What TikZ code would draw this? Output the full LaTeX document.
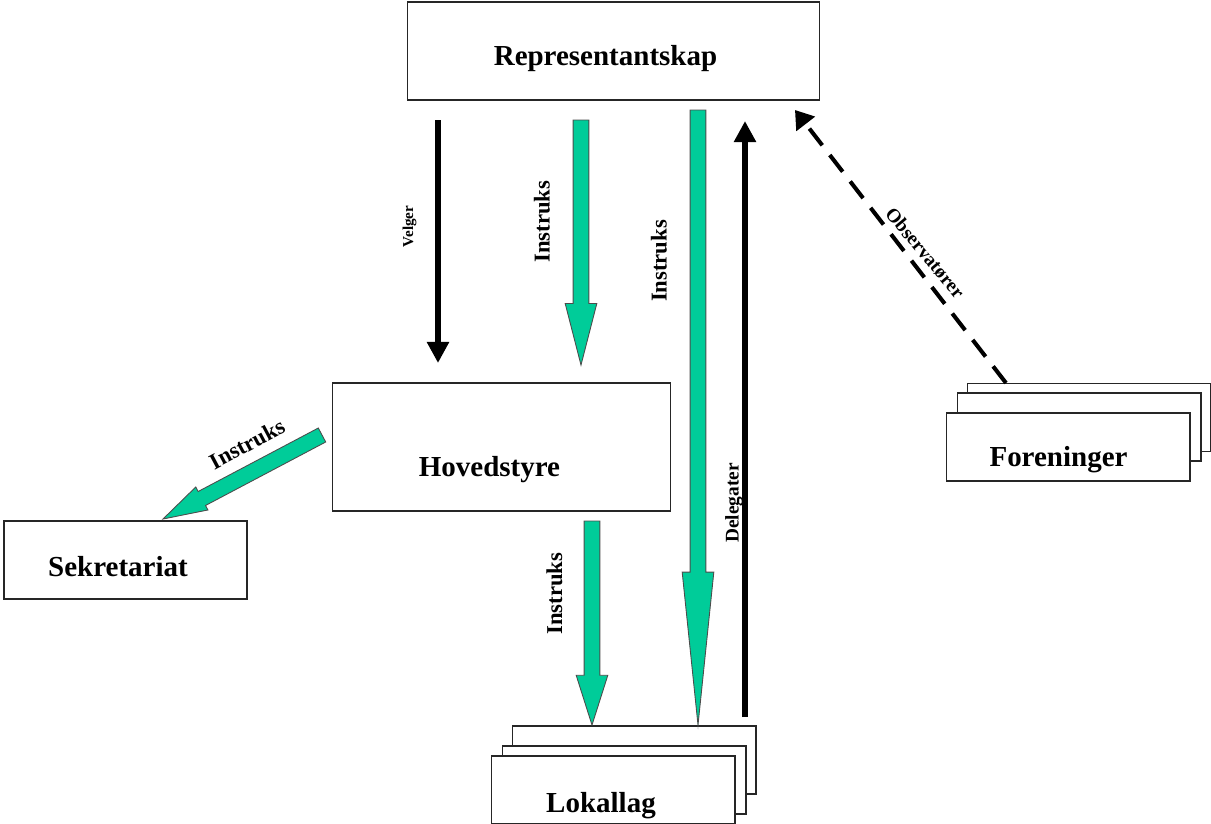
\documentclass[tikz,border=0pt]{standalone}
\usepackage{fontspec}
\setmainfont{Liberation Serif}
\usetikzlibrary{arrows.meta,calc}

\definecolor{instrgreen}{RGB}{0,204,153}

% block arrow: [half head width]{head length}{from}{to}
\newcommand{\instrarrow}[4][9pt]{%
  \coordinate (ia-base) at ($(#4)!#2!(#3)$);
  \filldraw[instrfill] ($(#3)!4.5pt!90:(#4)$) -- ($(ia-base)!4.5pt!90:(#4)$)
    -- ($(ia-base)!#1!90:(#4)$) -- (#4) -- ($(ia-base)!#1!-90:(#4)$)
    -- ($(ia-base)!4.5pt!-90:(#4)$) -- ($(#3)!4.5pt!-90:(#4)$) -- cycle;
}

\begin{document}
\begin{tikzpicture}[
    x=0.02cm, y=-0.02cm,
    box/.style={draw=black!85, line width=0.6pt, fill=white, inner sep=0pt, outer sep=0pt},
    stackbox/.style={box, minimum width=4.88cm, minimum height=1.36cm},
    boxtext/.style={font=\fontsize{16.5}{19}\selectfont\bfseries},
    arrowtext/.style={font=\fontsize{12.9}{15}\selectfont\bfseries},
    smalltext/.style={font=\fontsize{11}{13}\selectfont\bfseries},
    instrfill/.style={fill=instrgreen, draw=black!70, line width=0.5pt},
    velgarrow/.style={line width=3.4pt, -{Triangle[length=12pt,width=12pt]}},
    obsarrow/.style={line width=2.3pt, dash pattern=on 12pt off 7pt, -{Triangle[length=10pt,width=13pt]}},
  ]
  \useasboundingbox (0,0) rectangle (1211,823);

  % boxes
  \node[box, minimum width=8.26cm, minimum height=1.96cm,
    label={[boxtext, shift={(-8,8)}]center:Representantskap}] (rep) at (613.5,51) {};
  \node[box, minimum width=6.78cm, minimum height=2.56cm,
    label={[boxtext, shift={(-12,23)}]center:Hovedstyre}] (hoved) at (501.5,447) {};
  \node[box, minimum width=4.86cm, minimum height=1.56cm,
    label={[boxtext, shift={(-7.5,6.5)}]center:Sekretariat}] (sekr) at (125.5,560) {};

  \node[stackbox] (lokal-back) at (634,760) {};
  \node[stackbox] (lokal-mid) at (624,780) {};
  \node[stackbox, label={[boxtext, shift={(-12,16)}]center:Lokallag}] (lokal) at (613,790) {};

  \node[stackbox] (foren-back) at (1089,417.5) {};
  \node[stackbox] (foren-mid) at (1079,427) {};
  \node[stackbox, label={[boxtext, shift={(-9.5,13)}]center:Foreninger}] (foren) at (1068,447) {};

  % arrow ends
  \coordinate (velg-s) at (438,120);
  \coordinate (velg-e) at (438,363);
  \coordinate (instr1-s) at (581,120);
  \coordinate (instr1-e) at (581,365);
  \coordinate (instr2-s) at (698,110);
  \coordinate (instr2-e) at (698,725);
  \coordinate (instr3-s) at (592,521);
  \coordinate (instr3-e) at (592,725);
  \coordinate (instr4-s) at (322,435);
  \coordinate (instr4-e) at (163,519);
  \coordinate (deleg-s) at (745,717);
  \coordinate (deleg-e) at (745,121);
  \coordinate (obs-s) at (1006,383);
  \coordinate (obs-e) at (795,110);

  % arrows
  \draw[velgarrow] (velg-s) -- (velg-e);
  \draw[velgarrow] (deleg-s) -- (deleg-e);
  \draw[obsarrow] (obs-s) -- (obs-e);
  \instrarrow{35pt}{instr1-s}{instr1-e}
  \instrarrow{87pt}{instr2-s}{instr2-e}
  \instrarrow{28.3pt}{instr3-s}{instr3-e}
  \instrarrow[7.4pt]{25pt}{instr4-s}{instr4-e}

  % arrow labels
  \node[rotate=90, font=\fontsize{8.6}{10}\selectfont\bfseries] (velg-lbl) at (409.5,226.5) {Velger};
  \node[arrowtext, rotate=90] (instr1-lbl) at (542,221.5) {Instruks};
  \node[arrowtext, rotate=90] (instr2-lbl) at (659,261) {Instruks};
  \node[arrowtext, rotate=90] (instr3-lbl) at (554.5,593.5) {Instruks};
  \node[arrowtext, rotate=28] (instr4-lbl) at (247,444) {Instruks};
  \node[smalltext, rotate=90] (deleg-lbl) at (734,503) {Delegater};
  \node[smalltext, rotate=-50] (obs-lbl) at (925,253) {Observatører};
\end{tikzpicture}
\end{document}
